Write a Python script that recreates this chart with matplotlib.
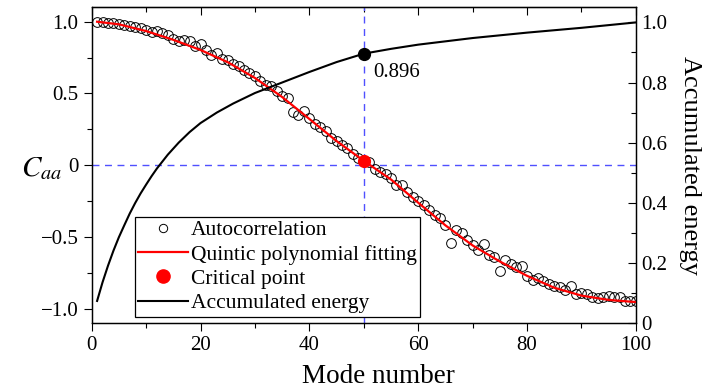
import matplotlib
matplotlib.use('Agg')
import matplotlib.pyplot as plt
from matplotlib.ticker import MultipleLocator, FuncFormatter
import numpy as np

plt.rcParams['font.family'] = 'Liberation Serif'
plt.rcParams['mathtext.fontset'] = 'stix'

# autocorrelation coefficient of each POD mode
modes = np.arange(1, 101)
autocorr = [
    1.000, 0.995, 0.993, 0.990, 0.985, 0.978, 0.972, 0.965, 0.955, 0.945,
    0.930, 0.935, 0.920, 0.905, 0.880, 0.865, 0.875, 0.865, 0.830, 0.845,
    0.800, 0.770, 0.780, 0.740, 0.730, 0.705, 0.690, 0.665, 0.645, 0.620,
    0.585, 0.560, 0.550, 0.520, 0.480, 0.470, 0.370, 0.350, 0.380, 0.330,
    0.290, 0.265, 0.240, 0.190, 0.165, 0.140, 0.120, 0.080, 0.050, 0.030,
    0.020, -0.030, -0.050, -0.060, -0.090, -0.140, -0.140, -0.190, -0.220, -0.250,
    -0.280, -0.310, -0.350, -0.370, -0.420, -0.540, -0.450, -0.470, -0.520, -0.560,
    -0.590, -0.550, -0.630, -0.640, -0.740, -0.660, -0.690, -0.710, -0.700, -0.770,
    -0.800, -0.790, -0.810, -0.830, -0.840, -0.850, -0.870, -0.840, -0.900, -0.890,
    -0.900, -0.920, -0.930, -0.920, -0.910, -0.920, -0.920, -0.950, -0.950, -0.950,
]

# quintic polynomial fit, sampled
fit_modes = [1, 5, 10, 15, 20, 25, 30, 35, 40, 45, 50,
             55, 60, 65, 70, 75, 80, 85, 90, 95, 100]
fit_vals = [1.000, 0.982, 0.935, 0.874, 0.803, 0.718, 0.608, 0.475, 0.322, 0.168, 0.030,
            -0.100, -0.262, -0.420, -0.560, -0.672, -0.772, -0.855, -0.910, -0.940, -0.955]

crit_mode = 50
crit_val = 0.03

# accumulated energy fraction
energy_modes = [1, 2, 3, 4, 5, 6, 7, 8, 9, 10, 11, 12, 14, 16, 18, 20, 23, 26, 30,
                35, 40, 45, 50, 55, 60, 70, 80, 90, 100]
energy = [0.073, 0.135, 0.190, 0.240, 0.285, 0.325, 0.364, 0.399, 0.431, 0.460,
          0.488, 0.514, 0.560, 0.600, 0.635, 0.665, 0.700, 0.730, 0.765,
          0.800, 0.835, 0.868, 0.896, 0.912, 0.926, 0.948, 0.966, 0.982, 1.000]
crit_energy = 0.896

fig = plt.figure(figsize=(7.05, 3.89), dpi=100)
ax = fig.add_axes([0.130, 0.170, 0.772, 0.811])
ax2 = ax.twinx()

blue = '#5050ff'
ax.axhline(0, color=blue, lw=1.0, ls=(0, (5, 4)), zorder=1)
ax.axvline(crit_mode, color=blue, lw=1.0, ls=(0, (5, 4)), zorder=1)

h_auto, = ax.plot(modes, autocorr, 'o', mfc='none', mec='black', ms=7, mew=0.7,
                  label='Autocorrelation', zorder=2)
h_fit, = ax.plot(fit_modes, fit_vals, color='red', lw=1.6,
                 label='Quintic polynomial fitting', zorder=3)
h_crit, = ax.plot([crit_mode], [crit_val], 'o', color='red', ms=8.5,
                  label='Critical point', zorder=4)

h_en, = ax2.plot(energy_modes, energy, color='black', lw=1.5, label='Accumulated energy')
ax2.plot([crit_mode], [crit_energy], 'o', color='black', ms=8.5)
ax2.text(crit_mode + 1.8, crit_energy - 0.063, f'{crit_energy:.3f}', fontsize=15,
         va='center', ha='left')

ax.set_xlim(0, 100)
ax.set_ylim(-1.1, 1.1)
ax2.set_ylim(0, 1.05)

ax.xaxis.set_major_locator(MultipleLocator(20))
ax.xaxis.set_minor_locator(MultipleLocator(10))
ax.yaxis.set_major_locator(MultipleLocator(0.5))
ax.yaxis.set_minor_locator(MultipleLocator(0.25))
ax2.yaxis.set_major_locator(MultipleLocator(0.2))
ax2.yaxis.set_minor_locator(MultipleLocator(0.1))

def fmt(v, pos):
    if abs(v) < 1e-9:
        return '0'
    return f'{v:.1f}'.replace('-', '\u2212')

ax.yaxis.set_major_formatter(FuncFormatter(fmt))
ax2.yaxis.set_major_formatter(FuncFormatter(fmt))

ax.tick_params(axis='both', which='both', labelsize=15, width=0.8)
ax.tick_params(axis='x', which='both', direction='out', top=False)
ax.tick_params(axis='y', which='both', direction='out', right=False)
ax.tick_params(which='major', length=6)
ax.tick_params(which='minor', length=3.5)
ax2.tick_params(axis='y', which='both', direction='in', labelsize=15, width=0.8)
ax2.tick_params(which='major', length=6)
ax2.tick_params(which='minor', length=3.5)

# inward ticks along the top edge
top = ax.secondary_xaxis('top')
top.xaxis.set_major_locator(MultipleLocator(20))
top.xaxis.set_minor_locator(MultipleLocator(10))
top.tick_params(which='both', direction='in', labeltop=False, width=0.8)
top.tick_params(which='major', length=6)
top.tick_params(which='minor', length=3.5)

for a in (ax, ax2):
    for s in a.spines.values():
        s.set_linewidth(0.9)

ax.set_xlabel('Mode number', fontsize=19.5, va='center', ha='center')
ax.xaxis.set_label_coords(0.527, -0.17)
ax.set_ylabel(r'$C_{aa}$', fontsize=21, rotation=0, va='center', ha='center')
ax.yaxis.set_label_coords(-0.091, 0.49)
ax2.set_ylabel('Accumulated energy', fontsize=19, rotation=270, va='center', ha='center')
ax2.yaxis.set_label_coords(1.1, 0.5)

leg = ax2.legend([h_auto, h_fit, h_crit, h_en],
                 ['Autocorrelation', 'Quintic polynomial fitting', 'Critical point',
                  'Accumulated energy'],
                 loc='lower left', bbox_to_anchor=(0.08, 0.02), borderaxespad=0,
                 fontsize=15.5, frameon=True, fancybox=False, edgecolor='black',
                 framealpha=1, handlelength=2.3, handletextpad=0.15,
                 labelspacing=0.2, borderpad=0.15)
leg.get_frame().set_linewidth(0.9)
leg.legend_handles[0].set_markersize(6)
leg.legend_handles[2].set_markersize(9.5)

fig.savefig('out.png', dpi=100)
